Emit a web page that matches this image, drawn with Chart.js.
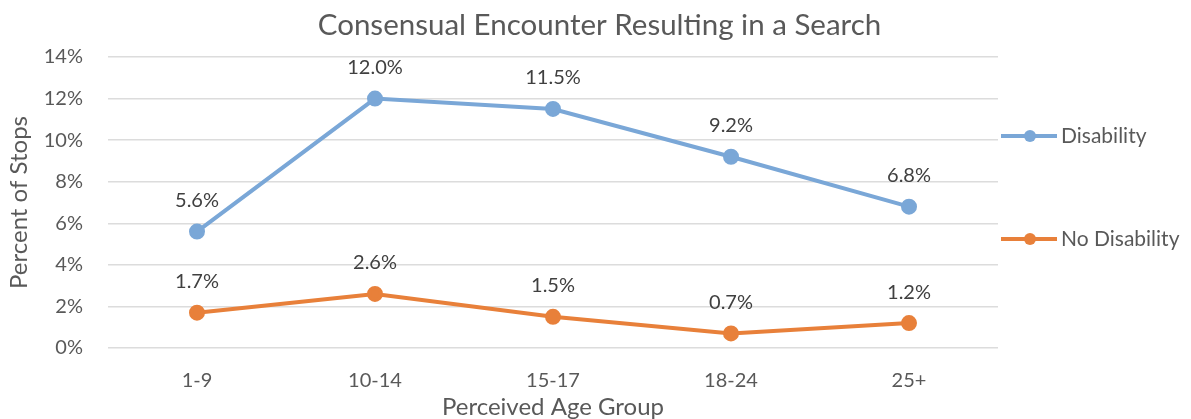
<!DOCTYPE html>
<html>
<head>
<meta charset="utf-8">
<script src="https://cdn.jsdelivr.net/npm/chart.js@4"></script>
<style>
  html, body { margin: 0; padding: 0; background: #fff; }
  #wrap { width: 1191px; height: 419px; }
</style>
</head>
<body>
<div id="wrap"><canvas id="myChart"></canvas></div>
<script>
const ageGroups = ['1-9', '10-14', '15-17', '18-24', '25+'];
const disability = [5.6, 12.0, 11.5, 9.2, 6.8];
const noDisability = [1.7, 2.6, 1.5, 0.7, 1.2];
const seriesNames = ['Disability', 'No Disability'];
const chartTitle = 'Consensual Encounter Resulting in a Search';

const FONT = 'Lato, "Open Sans", sans-serif';
const TEXT = '#595959';

// title centred on the whole canvas (excel style), not just the plot
const wideTitle = {
  id: 'wideTitle',
  afterDraw(chart) {
    const ctx = chart.ctx;
    ctx.save();
    ctx.font = '29.5px ' + FONT;
    ctx.fillStyle = TEXT;
    ctx.textAlign = 'center';
    ctx.textBaseline = 'middle';
    ctx.fillText(chartTitle, chart.width / 2 + 4, 25);
    ctx.restore();
  }
};

// value labels above each point
const pointLabels = {
  id: 'pointLabels',
  afterDatasetsDraw(chart) {
    const ctx = chart.ctx;
    ctx.save();
    ctx.font = '20px ' + FONT;
    ctx.fillStyle = '#404040';
    ctx.textAlign = 'center';
    ctx.textBaseline = 'middle';
    chart.data.datasets.forEach((ds, i) => {
      chart.getDatasetMeta(i).data.forEach((pt, j) => {
        ctx.fillText(ds.data[j].toFixed(1) + '%', pt.x, pt.y - 31);
      });
    });
    ctx.restore();
  }
};

// legend on the right, line with dot like excel
const sideLegend = {
  id: 'sideLegend',
  afterDraw(chart) {
    const ctx = chart.ctx;
    const area = chart.chartArea;
    const offsets = [79, 182];
    ctx.save();
    chart.data.datasets.forEach((ds, i) => {
      const y = area.top + offsets[i];
      const x0 = area.right + 3;
      ctx.strokeStyle = ds.borderColor;
      ctx.lineWidth = 4;
      ctx.beginPath();
      ctx.moveTo(x0, y);
      ctx.lineTo(x0 + 56, y);
      ctx.stroke();
      ctx.fillStyle = ds.borderColor;
      ctx.beginPath();
      ctx.arc(x0 + 29, y, 6, 0, Math.PI * 2);
      ctx.fill();
      ctx.fillStyle = TEXT;
      ctx.font = '21px ' + FONT;
      ctx.textAlign = 'left';
      ctx.textBaseline = 'middle';
      ctx.fillText(ds.label, x0 + 60, y);
    });
    ctx.restore();
  }
};

const blue = '#7aa7d7';
const orange = '#e8803a';

new Chart(document.getElementById('myChart'), {
  type: 'line',
  data: {
    labels: ageGroups,
    datasets: [
      {
        label: seriesNames[0],
        data: disability,
        borderColor: blue,
        backgroundColor: blue,
        borderWidth: 4,
        pointRadius: 6,
        pointHoverRadius: 6,
        tension: 0
      },
      {
        label: seriesNames[1],
        data: noDisability,
        borderColor: orange,
        backgroundColor: orange,
        borderWidth: 4,
        pointRadius: 6,
        pointHoverRadius: 6,
        tension: 0
      }
    ]
  },
  options: {
    responsive: true,
    maintainAspectRatio: false,
    animation: false,
    layout: { padding: { left: 0, right: 193, top: 57, bottom: 0 } },
    plugins: {
      legend: { display: false },
      tooltip: { enabled: false },
      title: { display: false }
    },
    scales: {
      x: {
        offset: true,
        grid: { display: false, drawTicks: false },
        border: { display: false },
        ticks: { color: TEXT, font: { family: FONT, size: 20 }, padding: 21 },
        title: {
          display: true,
          text: 'Perceived Age Group',
          color: TEXT,
          font: { family: FONT, size: 24 },
          padding: { top: 0, bottom: -3 }
        },
        afterFit(scale) { scale.height = 71; }
      },
      y: {
        min: 0,
        max: 14,
        ticks: {
          stepSize: 2,
          color: TEXT,
          font: { family: FONT, size: 20 },
          padding: 25,
          callback: (v) => v + '%'
        },
        grid: { color: '#dcdcdc', lineWidth: 1.5, drawTicks: false },
        border: { display: false },
        title: {
          display: true,
          text: 'Percent of Stops',
          color: TEXT,
          font: { family: FONT, size: 24 },
          padding: { top: 5, bottom: 0 }
        },
        afterFit(scale) { scale.width = 108; }
      }
    }
  },
  plugins: [pointLabels, sideLegend, wideTitle]
});
</script>
</body>
</html>
